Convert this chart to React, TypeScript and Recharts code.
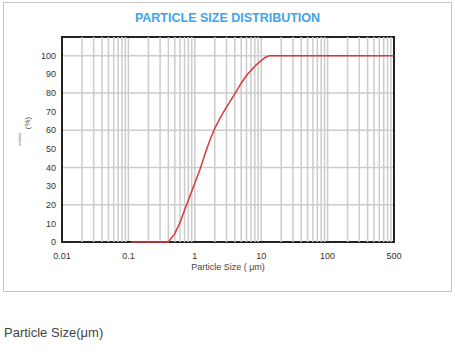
import { LineChart, Line, XAxis, YAxis, CartesianGrid, ReferenceArea, ReferenceLine } from "recharts";

// particle size (µm) vs cumulative volume (%)
const sizes = [0.11, 0.2, 0.3, 0.4, 0.5, 0.6, 0.7, 0.85, 1, 1.2, 1.45, 1.7, 2, 2.4, 2.8, 3.4, 4, 5, 6, 7, 8.5, 10, 11.5, 13.3, 20, 50, 100, 200, 500, 1000];
const volume = [0, 0, 0, 0, 4.5, 10.5, 17, 25, 31.5, 39, 48, 55, 61, 66.5, 70.6, 75.5, 79.5, 85.2, 89.3, 92, 95.2, 97.3, 99, 100, 100, 100, 100, 100, 100, 100];

const xTicks = [0.01, 0.1, 1, 10, 100, 1000];
const xTickLabels = ["0.01", "0.1", "1", "10", "100", "500"];
const yTicks = [0, 10, 20, 30, 40, 50, 60, 70, 80, 90, 100];

const data = sizes.map((s, i) => ({ size: s, volume: volume[i] }));

// log grid: 2..9 in every decade (decades come from the ticks)
const gridX: number[] = [];
for (let d = 0.01; d < 1000; d *= 10) {
  for (let k = 2; k <= 9; k++) gridX.push(+(d * k).toPrecision(3));
}

const FONT = "'Liberation Sans', Arial, sans-serif";

function VolumeLabel() {
  return (
    <g fontFamily={FONT} fill="#555">
      <text x={30} y={123} fontSize={8} transform="rotate(-90 30 123)" textAnchor="middle">(%)</text>
      <text x={21} y={139} fontSize={4} transform="rotate(-90 21 139)" textAnchor="middle">volume</text>
    </g>
  );
}

export default function App() {
  return (
    <div style={{ position: "absolute", left: 0, top: 0, width: 455, height: 354, background: "#fff", fontFamily: FONT }}>
      <div style={{ position: "absolute", left: 3, top: 2, width: 449, height: 290, border: "1px solid #c4c4c4", boxSizing: "border-box" }} />
      <div style={{ position: "absolute", left: 0, top: 11, width: 455, textAlign: "center", color: "#3ea4ec", fontWeight: "bold", fontSize: 12.5 }}>
        PARTICLE SIZE DISTRIBUTION
      </div>
      <div style={{ position: "absolute", left: 0, top: 0 }}>
        <LineChart width={455} height={300} data={data} margin={{ top: 37, right: 61, bottom: 28, left: 32 }}>
          <CartesianGrid stroke="#cccccc" strokeWidth={1.5} />
          {gridX.map((g) => (
            <ReferenceLine key={g} x={g} stroke="#cccccc" strokeWidth={1.5} />
          ))}
          <XAxis
            dataKey="size"
            type="number"
            scale="log"
            domain={[0.01, 1000]}
            ticks={xTicks}
            allowDataOverflow
            tickFormatter={(v: number) => xTickLabels[xTicks.indexOf(v)] ?? String(v)}
            tickLine={false}
            tickMargin={5}
            axisLine={false}
            tick={{ fontSize: 9, fill: "#333", fontFamily: FONT }}
            height={30}
            label={{ value: "Particle Size ( μm)", position: "insideBottom", offset: 2, fontSize: 9, fill: "#444", fontFamily: FONT }}
          />
          <YAxis
            type="number"
            domain={[0, 110]}
            ticks={yTicks}
            tickLine={false}
            tickSize={4}
            tickMargin={2}
            axisLine={false}
            tick={{ fontSize: 9, fill: "#333", fontFamily: FONT }}
            width={30}
            label={<VolumeLabel />}
          />
          <ReferenceArea x1={0.01} x2={1000} y1={0} y2={110} fill="none" stroke="#222" strokeWidth={2} />
          <Line type="linear" dataKey="volume" stroke="#d8393b" strokeWidth={1.5} dot={false} isAnimationActive={false} />
        </LineChart>
      </div>
      <div style={{ position: "absolute", left: 4, top: 325, fontSize: 13, color: "#444" }}>Particle Size(μm)</div>
    </div>
  );
}
